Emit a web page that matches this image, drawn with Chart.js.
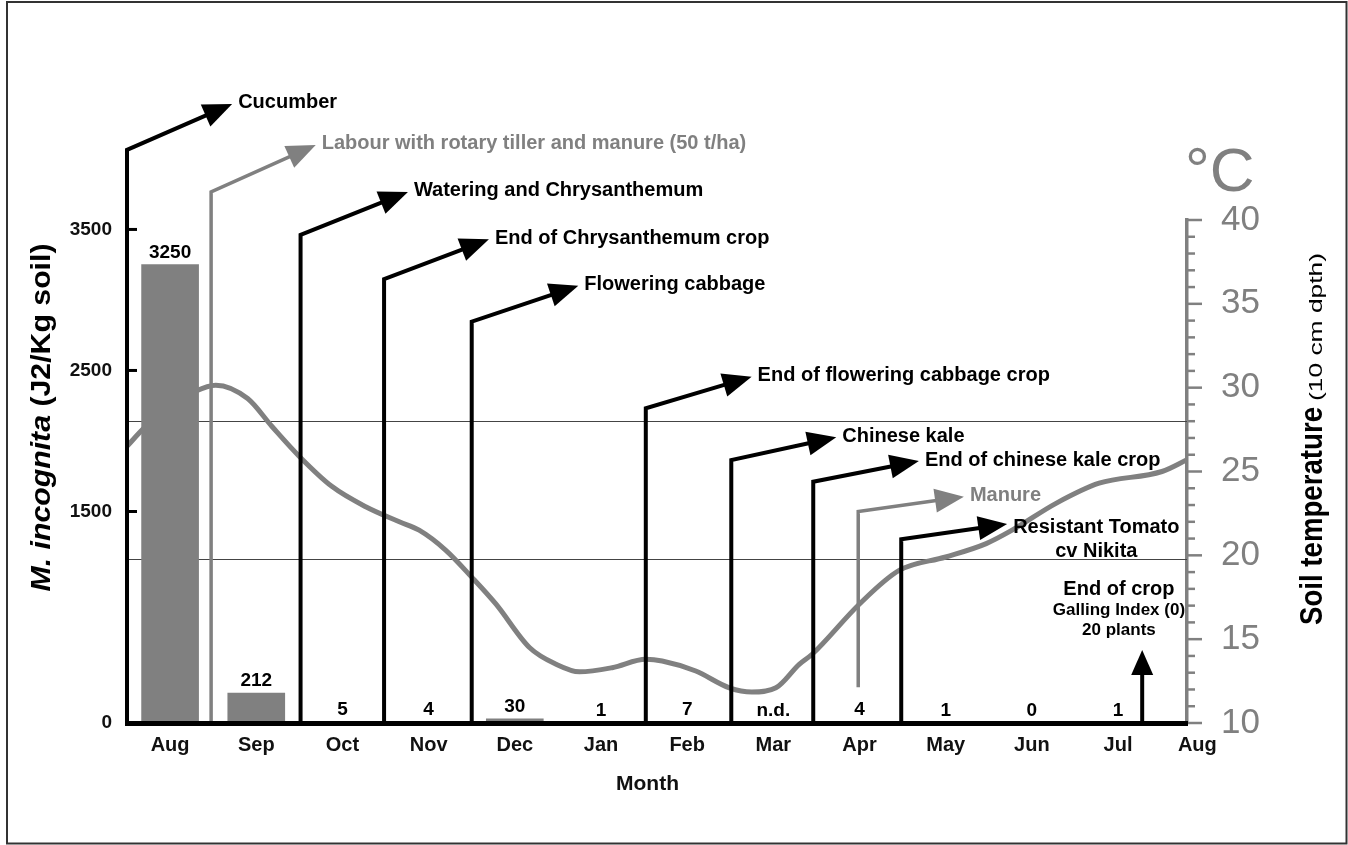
<!DOCTYPE html>
<html><head><meta charset="utf-8">
<script src="https://cdn.jsdelivr.net/npm/chart.js@4.4.1/dist/chart.umd.min.js"></script>
<style>html,body{margin:0;padding:0;background:#fff;}#wrap{width:1348px;height:845px;position:relative;}</style>
</head><body><div id="wrap"><canvas id="c"></canvas></div>
<script>
// ---------- data ----------
const months = ['Aug','Sep','Oct','Nov','Dec','Jan','Feb','Mar','Apr','May','Jun','Jul','Aug'];
const monthTickPos = [0,1,2,3,4,5,6,7,8,9,10,11,11.92];
const juvenilesPerKg = [3250,212,5,4,30,1,7,null,4,1,0,1];
const juvenileLabels = ['3250','212','5','4','30','1','7','n.d.','4','1','0','1'];
const countTicks = [0,1500,2500,3500];
const tempTicks = [10,15,20,25,30,35,40];
const tempMonth = [-0.5,-0.3,0.0,0.3,0.53,0.9,1.18,1.5,1.88,2.27,2.66,2.89,3.2,3.5,3.78,4.17,4.48,4.75,5.13,5.52,5.71,6.1,6.49,6.75,7.03,7.3,7.45,8.0,8.46,9.0,9.47,9.77,10.28,10.78,11.51,11.8];
const soilTempC = [26.5,27.6,28.8,29.8,30.15,29.35,27.7,25.9,24.1,22.9,22.0,21.5,20.3,18.7,17.1,14.5,13.5,13.05,13.3,13.8,13.7,13.1,12.1,11.85,12.1,13.5,14.1,17.1,19.1,19.9,20.7,21.5,23.1,24.3,25.0,25.7];
const tempRefLines = [28,19.8];
// crop events: vertical at eventMonth from eventFrom to eventTo (J2 units), arrow to tip
const eventText = ['Cucumber','Labour with rotary tiller and manure (50 t/ha)','Watering and Chrysanthemum','End of Chrysanthemum crop','Flowering cabbage','End of flowering cabbage crop','Chinese kale','End of chinese kale crop','Manure','Resistant Tomato\ncv Nikita'];
const eventMonth = [-0.5,0.476,1.514,2.483,3.50,5.52,6.512,7.463,7.985,8.484];
const eventFrom = [0,0,0,0,0,0,0,0,253,0];
const eventTo = [4064,3766,3461,3147,2846,2232,1865,1711,1499,1303];
const eventTipMonth = [0.72,1.69,2.76,3.70,4.737,6.748,7.73,8.689,9.211,9.713];
const eventTipCount = [4390,4099,3766,3430,3101,2456,2026,1858,1605,1411];
const eventGray = [false,true,false,false,false,false,false,false,true,false];
const cropEndMonth = 11.28;
const cropEndTipCount = 518;
const cropEndText = ['End of crop','Galling Index (0)','20 plants'];
const cropEndTextMonth = 11.01;
const cropEndTextCount = [948,796,655];

// ---------- drawing ----------
const FF = '"Liberation Sans", Arial, Helvetica, sans-serif';
const GRAY = '#808080';

function drawFitted(ctx, text, font, targetW, x, y, align) {
  ctx.font = font;
  const w = ctx.measureText(text).width;
  const sx = targetW / w;
  ctx.save();
  ctx.translate(x, y);
  ctx.scale(sx, 1);
  ctx.textAlign = align || 'left';
  ctx.fillText(text, 0, 0);
  ctx.restore();
}

function arrow(ctx, pts, color, width, L, H) {
  const n = pts.length;
  const p1 = pts[n-2], p2 = pts[n-1];
  const a = Math.atan2(p2.y - p1.y, p2.x - p1.x);
  ctx.strokeStyle = color; ctx.fillStyle = color; ctx.lineWidth = width;
  ctx.lineJoin = 'miter'; ctx.lineCap = 'butt';
  ctx.beginPath();
  ctx.moveTo(pts[0].x, pts[0].y);
  for (let i = 1; i < n-1; i++) ctx.lineTo(pts[i].x, pts[i].y);
  ctx.lineTo(p2.x - (L-3)*Math.cos(a), p2.y - (L-3)*Math.sin(a));
  ctx.stroke();
  ctx.beginPath();
  ctx.moveTo(p2.x, p2.y);
  ctx.lineTo(p2.x - L*Math.cos(a) - H*Math.sin(a), p2.y - L*Math.sin(a) + H*Math.cos(a));
  ctx.lineTo(p2.x - L*Math.cos(a) + H*Math.sin(a), p2.y - L*Math.sin(a) - H*Math.cos(a));
  ctx.closePath(); ctx.fill();
}

const decor = {
  id: 'decor',
  beforeDraw(chart) {
    const c = chart.ctx; c.save(); c.fillStyle = '#fff'; c.fillRect(0,0,chart.width,chart.height); c.restore();
  },
  beforeDatasetsDraw(chart) {
    const {ctx, chartArea: a, scales} = chart;
    ctx.save(); ctx.strokeStyle = '#444'; ctx.lineWidth = 1;
    tempRefLines.forEach(t => {
      const y = Math.round(scales.yT.getPixelForValue(t)) + 0.5;
      ctx.beginPath(); ctx.moveTo(a.left, y); ctx.lineTo(a.right, y); ctx.stroke();
    });
    ctx.restore();
  },
  afterDatasetsDraw(chart) {
    const {ctx, chartArea: a, scales} = chart;
    const xs = scales.x, ys = scales.y, ts = scales.yT;
    ctx.save();
    // left axis inward ticks
    ctx.strokeStyle = '#000'; ctx.lineWidth = 3;
    countTicks.forEach(v => {
      const y = ys.getPixelForValue(v);
      ctx.beginPath(); ctx.moveTo(a.left, y); ctx.lineTo(a.left + 10, y); ctx.stroke();
    });
    // right axis major/minor ticks
    ctx.strokeStyle = GRAY; ctx.lineWidth = 2.5;
    for (let t = 10; t <= 40; t++) {
      const y = ts.getPixelForValue(t);
      const len = (t % 5 === 0) ? 15 : 8;
      ctx.beginPath(); ctx.moveTo(a.right, y); ctx.lineTo(a.right + len, y); ctx.stroke();
    }
    // bar value labels
    ctx.fillStyle = '#000'; ctx.font = 'bold 19px ' + FF;
    ctx.textAlign = 'center'; ctx.textBaseline = 'alphabetic';
    juvenileLabels.forEach((lab, i) => {
      const x = xs.getPixelForValue(i);
      const y = ys.getPixelForValue(juvenilesPerKg[i] == null ? 0 : juvenilesPerKg[i]);
      ctx.fillText(lab, x, y - 7);
    });
    // events
    eventText.forEach((txt, i) => {
      const col = eventGray[i] ? GRAY : '#000';
      const vx = xs.getPixelForValue(eventMonth[i]);
      const p0 = {x: vx, y: ys.getPixelForValue(eventFrom[i])};
      const p1 = {x: vx, y: ys.getPixelForValue(eventTo[i])};
      const p2 = {x: xs.getPixelForValue(eventTipMonth[i]), y: ys.getPixelForValue(eventTipCount[i])};
      arrow(ctx, [p0, p1, p2], col, eventGray[i] ? 3.5 : 4, 29, 12);
      ctx.fillStyle = col; ctx.font = 'bold 20px ' + FF; ctx.textBaseline = 'middle';
      const lines = txt.split('\n');
      if (lines.length === 1) {
        ctx.textAlign = 'left';
        ctx.fillText(txt, p2.x + 6, p2.y - 1);
      } else {
        const mw = Math.max(...lines.map(l => ctx.measureText(l).width));
        ctx.textAlign = 'center';
        lines.forEach((l, k) => ctx.fillText(l, p2.x + 6 + mw/2, p2.y + 3 + k*24.5));
      }
    });
    // end of crop arrow
    const ex = xs.getPixelForValue(cropEndMonth);
    arrow(ctx, [{x: ex, y: ys.getPixelForValue(0)}, {x: ex, y: ys.getPixelForValue(cropEndTipCount)}], '#000', 4, 25, 11);
    ctx.fillStyle = '#000'; ctx.textAlign = 'center'; ctx.textBaseline = 'middle';
    cropEndText.forEach((t, k) => {
      ctx.font = (k === 0 ? 'bold 20px ' : 'bold 17px ') + FF;
      ctx.fillText(t, xs.getPixelForValue(cropEndTextMonth), ys.getPixelForValue(cropEndTextCount[k]));
    });
    ctx.restore();
  },
  afterDraw(chart) {
    const {ctx} = chart;
    ctx.save();
    // left axis title
    ctx.fillStyle = '#000'; ctx.textBaseline = 'alphabetic';
    ctx.save();
    ctx.translate(50, 417.5); ctx.rotate(-Math.PI/2);
    const f1 = 'italic bold 28px ' + FF, f2 = 'bold 28px ' + FF;
    const t1 = 'M. incognita', t2 = ' (J2/Kg soil)';
    ctx.font = f1; const w1 = ctx.measureText(t1).width;
    ctx.font = f2; const w2 = ctx.measureText(t2).width;
    const sx = 348 / (w1 + w2);
    ctx.scale(sx, 1);
    ctx.textAlign = 'left';
    ctx.font = f1; ctx.fillText(t1, -(w1 + w2)/2, 0);
    ctx.font = f2; ctx.fillText(t2, -(w1 + w2)/2 + w1, 0);
    ctx.restore();
    // right axis title
    ctx.save();
    ctx.translate(1322, 0); ctx.rotate(-Math.PI/2);
    drawFitted(ctx, 'Soil temperature', 'bold 31px ' + FF, 218, -625, 0, 'left');
    drawFitted(ctx, '(10 cm dpth)', '18px ' + FF, 148, -401, 0, 'left');
    ctx.restore();
    // degree C
    ctx.fillStyle = GRAY; ctx.font = '62px ' + FF; ctx.textAlign = 'left'; ctx.textBaseline = 'alphabetic';
    ctx.fillText('°C', 1185, 191);
    // x axis title
    ctx.fillStyle = '#111'; ctx.font = 'bold 21px ' + FF; ctx.textAlign = 'center';
    ctx.fillText('Month', 647.5, 790);
    // frame
    ctx.strokeStyle = '#333'; ctx.lineWidth = 2;
    ctx.strokeRect(7, 2, 1339.5, 841.5);
    ctx.restore();
  }
};

new Chart(document.getElementById('c'), {
  data: {
    datasets: [
      { type: 'bar', label: 'M. incognita (J2/Kg soil)',
        data: juvenilesPerKg.map((v, i) => ({x: i, y: v})),
        backgroundColor: GRAY, barThickness: 57,
        xAxisID: 'x', yAxisID: 'y', order: 0 },
      { type: 'line', label: 'Soil temperature (10 cm dpth)',
        data: tempMonth.map((m, i) => ({x: m, y: soilTempC[i]})),
        borderColor: GRAY, borderWidth: 5, pointRadius: 0, fill: false,
        tension: 0.4, cubicInterpolationMode: 'monotone',
        xAxisID: 'x', yAxisID: 'yT', order: 1 }
    ]
  },
  options: {
    responsive: true, maintainAspectRatio: false, animation: false,
    layout: {padding: {top: 220, left: 0, right: 0, bottom: 0}},
    plugins: {legend: {display: false}, tooltip: {enabled: false}},
    scales: {
      x: { type: 'linear', min: -0.5, max: 11.8, offset: false, bounds: 'ticks',
        afterFit(s) { s.height = 122; },
        afterBuildTicks(s) { s.ticks = monthTickPos.map(v => ({value: v})); },
        grid: {display: false, drawTicks: false, offset: false},
        border: {display: true, color: '#000', width: 5, z: 1},
        ticks: {autoSkip: false, maxRotation: 0, minRotation: 0, padding: 10, color: '#111',
          font: {family: FF, size: 20, weight: 'bold'}, callback: (v, i) => months[i]} },
      y: { type: 'linear', position: 'left', min: 0, max: 3567,
        afterFit(s) { s.width = 127; },
        afterBuildTicks(s) { s.ticks = countTicks.map(v => ({value: v})); },
        grid: {display: false, drawTicks: false},
        border: {display: true, color: '#000', width: 4},
        ticks: {padding: 15, color: '#111', font: {family: FF, size: 19, weight: 'bold'}, callback: v => String(v)} },
      yT: { type: 'linear', position: 'right', min: 10, max: 40,
        afterFit(s) { s.width = 161; },
        afterBuildTicks(s) { s.ticks = tempTicks.map(v => ({value: v})); },
        grid: {display: false, drawTicks: false},
        border: {display: true, color: GRAY, width: 3.5},
        ticks: {padding: 34, color: GRAY, font: {family: FF, size: 35}, callback: v => String(v)} }
    }
  },
  plugins: [decor]
});
</script>
</body></html>
